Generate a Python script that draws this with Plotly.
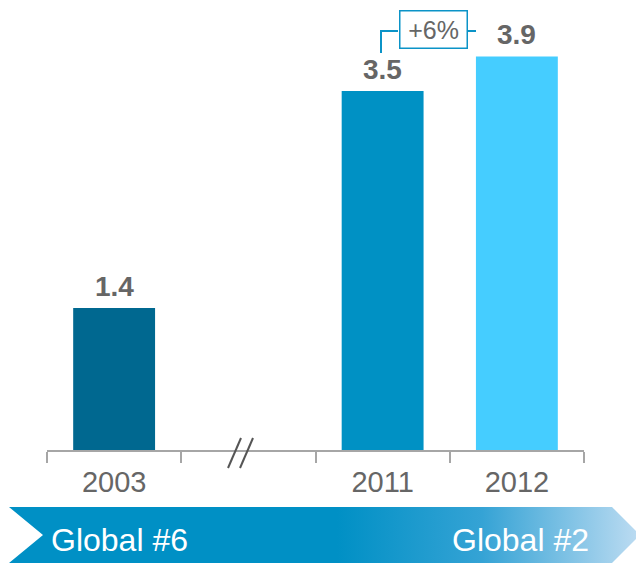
import plotly.graph_objects as go

# ---- data ----
categories = ["2003", "gap", "2011", "2012"]
tick_labels = ["2003", "", "2011", "2012"]
values = [1.4, None, 3.54, 3.88]
value_labels = ["1.4", "", "3.5", "3.9"]
bar_colors = ["#006890", "rgba(0,0,0,0)", "#0091c4", "#45cdff"]
growth_label = "+6%"
banner_left = "Global #6"
banner_right = "Global #2"

W, H = 636, 573
FONT = "Liberation Sans, Arial, sans-serif"
GRAY = "#666666"
AXIS_GRAY = "#a6a6a6"
BLUE = "#0b93c7"

fig = go.Figure()

fig.add_trace(go.Bar(
    x=categories, y=values, marker=dict(color=bar_colors, line=dict(width=0)),
    width=0.61, hoverinfo="skip", xaxis="x", yaxis="y",
))

# value labels (x given as category index)
for i, (v, t) in enumerate(zip(values, value_labels)):
    if v is None:
        continue
    fig.add_annotation(x=i, y=v, xref="x", yref="y", text=t, showarrow=False,
                       yanchor="bottom", yshift=4,
                       font=dict(family=FONT, size=28, color=GRAY, weight="bold"))

# banner (pixel axes x2/y2 spanning full figure)
bx = [9, 612, 640, 612, 9, 43, 9]
by = [507, 507, 535, 563, 563, 535, 507]
fig.add_trace(go.Scatter(
    x=bx, y=by, xaxis="x2", yaxis="y2", mode="lines", fill="toself",
    line=dict(width=0, color="rgba(0,0,0,0)"),
    fillgradient=dict(type="horizontal",
                      colorscale=[[0, "#0090c5"], [0.52, "#0090c5"],
                                  [0.75, "#35a3d5"], [1, "#bddcf2"]]),
    hoverinfo="skip",
))
fig.add_annotation(x=49, y=540, xref="x2", yref="y2", text=banner_left,
                   showarrow=False, xanchor="left", yanchor="middle",
                   font=dict(family=FONT, size=32, color="white"))
fig.add_annotation(x=591, y=540, xref="x2", yref="y2", text=banner_right,
                   showarrow=False, xanchor="right", yanchor="middle",
                   font=dict(family=FONT, size=32, color="white"))

# growth bracket
fig.add_annotation(x=433, y=29, xref="x2", yref="y2", text=growth_label,
                   showarrow=False, xanchor="center", yanchor="middle",
                   width=64, height=34, bordercolor=BLUE, borderwidth=1.5,
                   borderpad=1, bgcolor="white",
                   font=dict(family=FONT, size=25, color=GRAY))
shapes = [
    dict(type="line", xref="x2", yref="y2", x0=381, y0=53, x1=381, y1=31,
         line=dict(color=BLUE, width=2)),
    dict(type="line", xref="x2", yref="y2", x0=380, y0=31, x1=398, y1=31,
         line=dict(color=BLUE, width=2)),
    dict(type="line", xref="x2", yref="y2", x0=468, y0=31, x1=476, y1=31,
         line=dict(color=BLUE, width=2)),
    # axis break marks
    dict(type="line", xref="x2", yref="y2", x0=228, y0=468, x1=241, y1=438,
         line=dict(color="#555555", width=2)),
    dict(type="line", xref="x2", yref="y2", x0=240, y0=468, x1=253, y1=438,
         line=dict(color="#555555", width=2)),
]

fig.update_layout(
    width=W, height=H,
    margin=dict(l=0, r=0, t=0, b=0),
    paper_bgcolor="white", plot_bgcolor="rgba(0,0,0,0)",
    showlegend=False, shapes=shapes,
    xaxis=dict(domain=[47 / W, 584 / W], range=[-0.5, 3.5], type="category",
               tickmode="array", tickvals=categories, ticktext=tick_labels,
               tickson="boundaries", ticks="outside", ticklen=11,
               tickcolor=AXIS_GRAY, tickwidth=1.5,
               showline=True, linecolor=AXIS_GRAY, linewidth=1.5,
               showgrid=False, zeroline=False, fixedrange=True,
               ticklabelstandoff=5,
               tickfont=dict(family=FONT, size=29, color=GRAY)),
    yaxis=dict(domain=[(H - 450) / H, (H - 24) / H], range=[0, 4.2],
               visible=False, showgrid=False, zeroline=False, fixedrange=True),
    xaxis2=dict(domain=[0, 1], range=[0, W], visible=False, anchor="y2",
                fixedrange=True),
    yaxis2=dict(domain=[0, 1], range=[H, 0], visible=False, anchor="x2",
                fixedrange=True),
)

fig.write_html("out.html", config={"displayModeBar": False},
               post_script="document.body.style.margin='0px';")
